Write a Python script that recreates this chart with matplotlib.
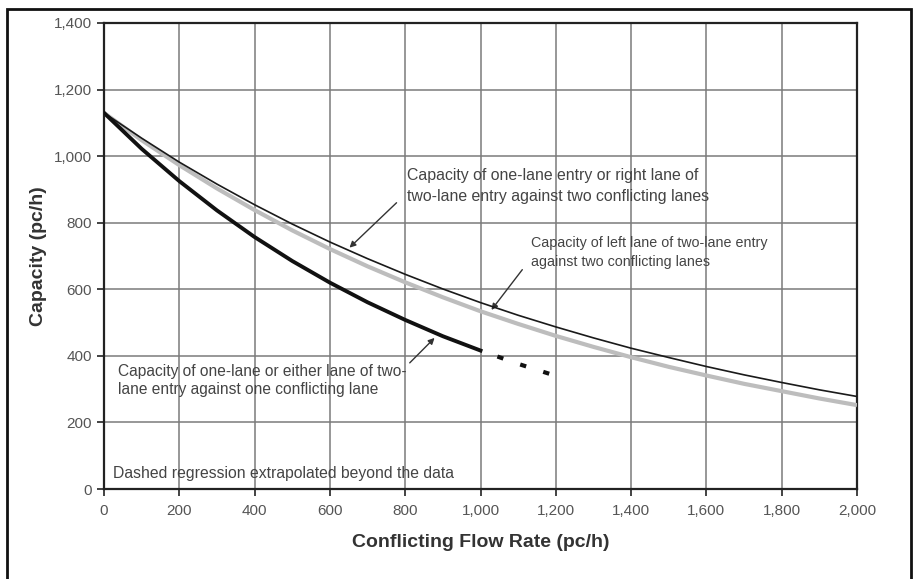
import matplotlib.pyplot as plt
from matplotlib.patches import Rectangle

plt.rcParams['font.family'] = ['Liberation Sans', 'DejaVu Sans']

# values (pc/h)
flow = [0, 100, 200, 300, 400, 500, 600, 700, 800, 900, 1000,
        1100, 1200, 1300, 1400, 1500, 1600, 1700, 1800, 1900, 2000]
cap_two_right = [1130, 1054, 982, 916, 854, 796, 742, 692, 645, 601, 560,
                 522, 487, 454, 423, 395, 368, 343, 320, 298, 278]
cap_two_left = [1130, 1048, 973, 903, 838, 777, 721, 669, 621, 576, 534,
                496, 460, 427, 396, 367, 341, 316, 294, 272, 252]
flow_one = [0, 100, 200, 300, 400, 500, 600, 700, 800, 900, 1000]
cap_one = [1130, 1022, 925, 837, 757, 685, 620, 561, 508, 459, 416]
flow_one_ext = [1000, 1100, 1200]
cap_one_ext = [416, 376, 340]

xticks = list(range(0, 2001, 200))
yticks = list(range(0, 1401, 200))

fig = plt.figure(figsize=(9.13, 5.79), dpi=100)
ax = fig.add_axes([0.1139, 0.1554, 0.8248, 0.8049])

ax.plot(flow, cap_two_left, color='#bdbdbd', lw=3.0, solid_capstyle='butt', zorder=3)
ax.plot(flow, cap_two_right, color='#1a1a1a', lw=1.2, zorder=4)
ax.plot(flow_one, cap_one, color='#111111', lw=2.8, zorder=5)
ax.plot(flow_one_ext, cap_one_ext, color='#111111', lw=3, ls=(1.5, (1.5, 4.3)), zorder=5)

ax.set_xlim(0, 2000)
ax.set_ylim(0, 1400)
ax.set_xticks(xticks)
ax.set_yticks(yticks)
ax.set_xticklabels([f'{v:,}' for v in xticks])
ax.set_yticklabels([f'{v:,}' for v in yticks])
ax.tick_params(axis='both', direction='out', length=5, width=1.2,
               labelsize=11, labelcolor='#555555', color='#222222')
ax.tick_params(axis='x', pad=6)
ax.grid(True, color='#7a7a7a', lw=1.1)
ax.set_axisbelow(True)
for s in ax.spines.values():
    s.set_color('#222222')
    s.set_linewidth(1.6)

ax.set_xlabel('Conflicting Flow Rate (pc/h)', fontsize=14, fontweight='bold',
              color='#333333', labelpad=11)
ax.set_ylabel('Capacity (pc/h)', fontsize=14, fontweight='bold',
              color='#333333', labelpad=5)

txt = dict(color='#444444', va='center', ha='left')
arw = dict(arrowstyle='-|>', color='#333333', lw=1, shrinkA=0, shrinkB=0, mutation_scale=9)

ax.text(804, 911, 'Capacity of one-lane entry or right lane of\n'
        'two-lane entry against two conflicting lanes',
        fontsize=11.4, linespacing=1.5, **txt)
ax.annotate('', xy=(652, 725), xytext=(777, 860), arrowprops=arw)

ax.text(1133, 711, 'Capacity of left lane of two-lane entry\n'
        'against two conflicting lanes', fontsize=10.3, linespacing=1.45, **txt)
ax.annotate('', xy=(1029, 538), xytext=(1111, 659), arrowprops=arw)

ax.text(37, 326, 'Capacity of one-lane or either lane of two-\n'
        'lane entry against one conflicting lane', fontsize=11.2, linespacing=1.3, **txt)
ax.annotate('', xy=(878, 454), xytext=(812, 379), arrowprops=arw)

ax.text(24, 48, 'Dashed regression extrapolated beyond the data', fontsize=11.3, **txt)

# outer frame
fig.patches.append(Rectangle((7 / 913, -0.02), 904 / 913, 1 - 9 / 579 + 0.02,
                             transform=fig.transFigure, fill=False,
                             edgecolor='#111111', lw=2))

fig.savefig('out.png', dpi=100)
plt.close(fig)
